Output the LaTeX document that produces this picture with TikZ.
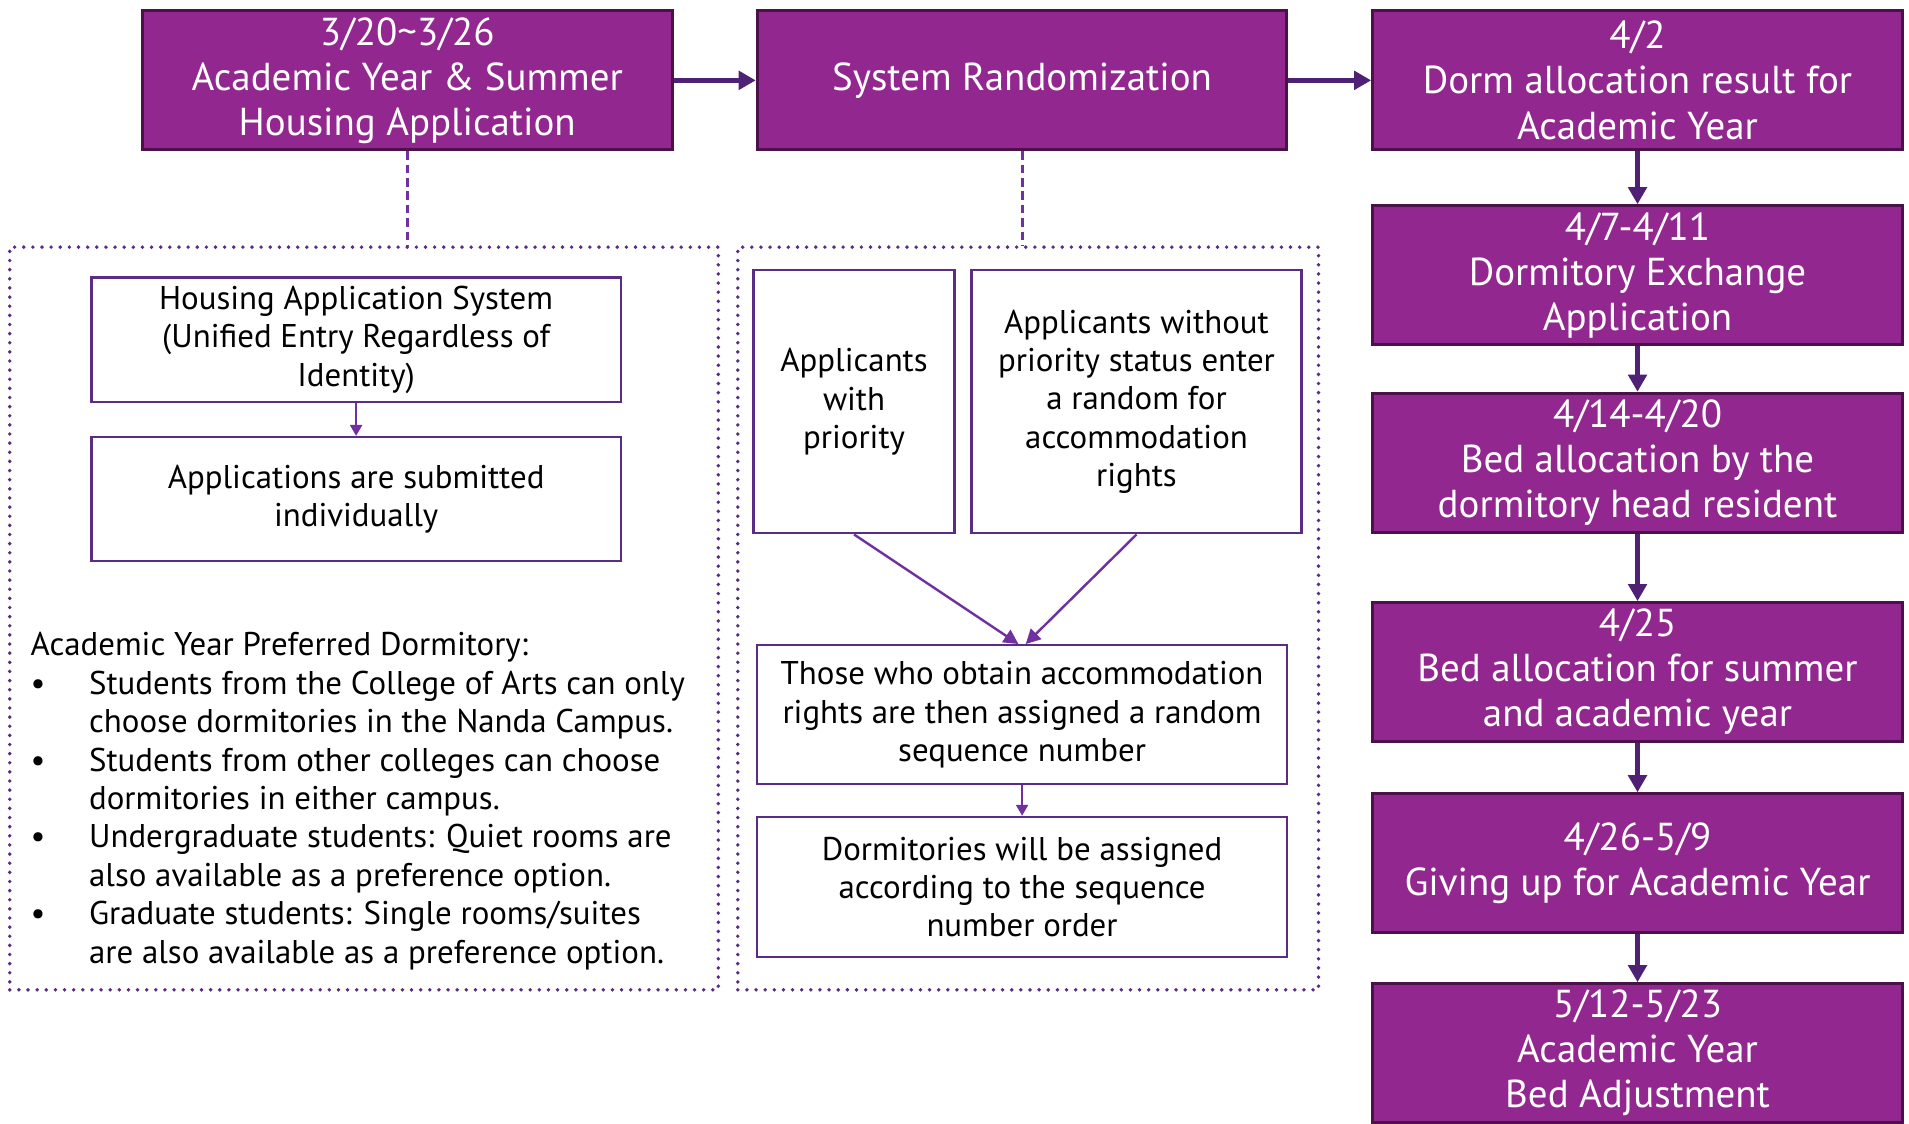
\documentclass[tikz,border=0pt]{standalone}
\usepackage{fontspec}
\setmainfont{PT Sans}
\usetikzlibrary{arrows.meta}

\definecolor{phasefill}{HTML}{92278F}
\definecolor{phaseline}{HTML}{4A1248}
\definecolor{flowline}{HTML}{4E2174}
\definecolor{boxline}{HTML}{5B2C86}
\definecolor{linkline}{HTML}{7030A0}

\tikzset{
phase/.style={draw=phaseline, line width=2.5pt, fill=phasefill, text=white,
  minimum width=435pt, minimum height=114pt, inner sep=0pt, align=center,
  font=\fontsize{32}{37}\selectfont},
detail/.style={draw=boxline, line width=2pt, fill=white, inner sep=0pt,
  align=center, font=\fontsize{27}{31.5}\selectfont},
zone/.style={draw=boxline, line width=3.2pt, dash pattern=on 0pt off 7.5pt,
  line cap=round, inner sep=0pt, minimum height=610pt},
flow/.style={draw=flowline, line width=4pt, -{Triangle[length=14pt, width=15pt]}},
link/.style={draw=linkline, line width=2pt, -{Triangle[length=12pt, width=12pt]}},
}

\begin{document}
\begin{tikzpicture}[x=1pt, y=-1pt]
\useasboundingbox (0,0) rectangle (1568,923);

% Define nodes
\path (334.5,66)
node[phase] (apply) {3/20\textasciitilde3/26\\Academic Year \& Summer\\Housing Application}
(apply) +(505,0) node[phase] (random) {System Randomization}
(random) +(505.5,0) node[phase] (result) {4/2\\Dorm allocation result for\\Academic Year}
(result) +(0,160) node[phase] (exchange) {4/7-4/11\\Dormitory Exchange\\Application}
(exchange) +(0,154) node[phase] (headres) {4/14-4/20\\Bed allocation by the\\dormitory head resident}
(headres) +(0,172) node[phase] (summer) {4/25\\Bed allocation for summer\\and academic year}
(summer) +(0,157) node[phase] (giveup) {4/26-5/9\\Giving up for Academic Year}
(giveup) +(0,156) node[phase] (adjust) {5/12-5/23\\Academic Year\\Bed Adjustment}
;

% Zones
\path (299,508) node[zone, minimum width=582pt] (appzone) {}
(844.5,508) node[zone, minimum width=477pt] (randzone) {}
;

\path (292.5,279)
node[detail, minimum width=435pt, minimum height=102pt] (system)
{Housing Application System\\(Unified Entry Regardless of\\Identity)}
(system) +(0,131) node[detail, minimum width=435pt, minimum height=102pt] (submit)
{Applications are submitted\\individually}
(25,658) node[anchor=west, inner sep=0pt, align=left,
  font=\fontsize{27}{31.6}\selectfont] (prefer)
{Academic Year Preferred Dormitory:\\
\makebox[48pt][l]{\textbullet}Students from the College of Arts can only\\
\hspace*{48pt}choose dormitories in the Nanda Campus.\\
\makebox[48pt][l]{\textbullet}Students from other colleges can choose\\
\hspace*{48pt}dormitories in either campus.\\
\makebox[48pt][l]{\textbullet}Undergraduate students: Quiet rooms are\\
\hspace*{48pt}also available as a preference option.\\
\makebox[48pt][l]{\textbullet}Graduate students: Single rooms/suites\\
\hspace*{48pt}are also available as a preference option.}
;

\path (701.5,330)
node[detail, minimum width=165pt, minimum height=216pt] (prio) {Applicants\\with\\priority}
(prio) +(232,0) node[detail, minimum width=271pt, minimum height=216pt] (noprio)
{Applicants without\\priority status enter\\a random for\\accommodation\\rights}
(839.5,587) node[detail, minimum width=435pt, minimum height=114pt] (seqno)
{Those who obtain accommodation\\rights are then assigned a random\\sequence number}
(seqno) +(0,141.5) node[detail, minimum width=435pt, minimum height=115pt] (assign)
{Dormitories will be assigned\\according to the sequence\\number order}
;

% Connectors
\draw[flow] (apply) -- (random);
\draw[flow] (random) -- (result);
\draw[flow] (result) -- (exchange);
\draw[flow] (exchange) -- (headres);
\draw[flow] (headres) -- (summer);
\draw[flow] (summer) -- (giveup);
\draw[flow] (giveup) -- (adjust);

\draw[draw=linkline, line width=2.5pt, dash pattern=on 7pt off 4pt]
(apply.south) -- (apply.south |- appzone.north)
(random.south) -- (random.south |- randzone.north)
;

\draw[link, line width=1.5pt, -{Triangle[length=9pt, width=10pt]}] (system) -- (submit);
\draw[link] (prio.south) -- ([xshift=-3pt]seqno.north);
\draw[link] (noprio.south) -- ([xshift=3pt]seqno.north);
\draw[link, line width=1.5pt, -{Triangle[length=9pt, width=10pt]}] (seqno) -- (assign);

\end{tikzpicture}
\end{document}
